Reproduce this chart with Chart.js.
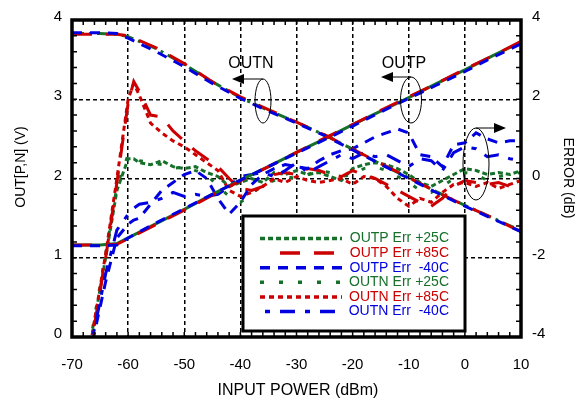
<!DOCTYPE html>
<html>
<head>
<meta charset="utf-8">
<script src="https://cdn.jsdelivr.net/npm/chart.js@4.4.0/dist/chart.umd.min.js"></script>
<style>
  html, body { margin: 0; padding: 0; background: #fff; }
  canvas { display: block; }
</style>
</head>
<body>
<canvas id="chart" width="585" height="400"></canvas>
<script>
// Output voltage curves (left axis, V)
const voltX = [-70, -65, -62, -60, -55, -50, -45, -40, -35, -30, -25, -20, -15, -10, -5, 0, 5, 10];
const outp25  = [1.16, 1.16, 1.18, 1.25, 1.43, 1.61, 1.80, 1.98, 2.15, 2.33, 2.50, 2.68, 2.85, 3.02, 3.20, 3.37, 3.55, 3.72];
const outp85  = [1.16, 1.16, 1.17, 1.24, 1.42, 1.60, 1.79, 1.97, 2.15, 2.33, 2.51, 2.68, 2.86, 3.03, 3.20, 3.38, 3.55, 3.73];
const outpM40 = [1.15, 1.15, 1.16, 1.25, 1.44, 1.62, 1.80, 1.98, 2.15, 2.32, 2.49, 2.66, 2.84, 3.01, 3.18, 3.35, 3.53, 3.70];
const outn25  = [3.83, 3.83, 3.82, 3.79, 3.64, 3.44, 3.22, 3.02, 2.86, 2.71, 2.55, 2.37, 2.18, 2.01, 1.83, 1.66, 1.50, 1.34];
const outn85  = [3.82, 3.82, 3.82, 3.80, 3.65, 3.45, 3.22, 3.03, 2.87, 2.71, 2.55, 2.37, 2.19, 2.01, 1.83, 1.66, 1.50, 1.33];
const outnM40 = [3.84, 3.84, 3.83, 3.77, 3.60, 3.41, 3.20, 3.01, 2.85, 2.70, 2.54, 2.36, 2.18, 2.00, 1.82, 1.65, 1.49, 1.33];

// Error curves (right axis, dB)
const errX = [-68, -66, -64, -62, -60, -59, -58, -56, -54, -52, -50, -48, -46, -44, -42, -40, -38, -36, -34, -32, -30,
              -28, -26, -24, -22, -20, -18, -16, -14, -12, -10, -8, -6, -4, -2, 0, 2, 4, 6, 8, 10];
const errOutp25  = [-5.3, -3.6, -2.0, -0.3, 0.5, 0.5, 0.4, 0.35, 0.45, 0.3, 0.25, 0.3, 0.15, 0.05, -0.2, -0.1, 0.0, -0.1, 0.15, 0.1, 0.2,
                    0.1, 0.15, 0.05, -0.05, 0.25, 0.35, 0.4, 0.35, 0.25, 0.1, -0.1, -0.2, -0.05, 0.1, 0.25, 0.2, 0.1, 0.15, 0.1, 0.2];
const errOutp85  = [-5.4, -3.7, -2.0, -0.1, 1.9, 2.45, 2.2, 1.6, 1.55, 1.2, 0.95, 0.7, 0.5, 0.3, 0.0, -0.25, -0.3, -0.2, 0.1, 0.15, 0.1,
                    0.25, 0.2, 0.1, 0.05, 0.2, 0.1, 0.0, -0.15, -0.3, -0.45, -0.6, -0.7, -0.5, -0.2, -0.05, -0.1, -0.15, -0.1, -0.2, -0.1];
const errOutpM40 = [-5.0, -3.9, -2.6, -1.5, -1.15, -1.05, -1.0, -0.65, -0.3, -0.1, 0.1, 0.2, 0.0, -0.5, -0.9, -0.6, -0.15, 0.1, 0.25, 0.35, 0.3,
                    0.25, 0.45, 0.6, 0.7, 0.75, 0.9, 1.05, 1.15, 1.25, 1.15, 0.6, 0.55, 0.3, 0.85, 0.9, 1.15, 1.0, 0.9, 0.95, 0.95];
const errOutn25  = [-5.2, -3.5, -1.9, -0.2, 0.6, 0.55, 0.45, 0.4, 0.35, 0.25, 0.3, 0.2, 0.1, -0.2, -0.45, -0.6, -0.4, -0.15, -0.05, 0.05, 0.0,
                    0.1, 0.2, 0.15, 0.05, 0.1, 0.25, 0.3, 0.2, 0.05, -0.1, -0.3, -0.35, -0.2, 0.0, 0.15, 0.1, -0.05, 0.05, 0.1, 0.15];
const errOutn85  = [-5.3, -3.6, -1.9, 0.0, 2.0, 2.4, 2.1, 1.4, 1.15, 0.95, 0.8, 0.6, 0.4, 0.2, -0.3, -0.45, -0.35, -0.2, 0.0, -0.1, 0.05,
                    -0.05, -0.1, -0.05, 0.0, -0.15, 0.05, 0.0, -0.2, -0.5, -0.7, -0.5, -0.6, -0.35, -0.15, -0.1, -0.2, -0.1, -0.25, -0.15, -0.05];
const errOutnM40 = [-4.9, -3.8, -2.4, -1.3, -0.9, -0.75, -0.65, -0.6, -0.5, -0.35, -0.45, -0.4, -0.45, -0.4, -0.2, 0.05, 0.1, 0.15, 0.05, 0.2, 0.4,
                    0.15, 0.3, 0.45, 0.6, 0.5, 0.65, 0.55, 0.6, 0.45, 0.3, 0.5, 0.45, 0.2, 0.65, 0.8, 0.75, 0.55, 0.6, 0.5, 0.45];

const seriesLabels = ['OUTP Err +25C', 'OUTP Err +85C', 'OUTP Err  -40C', 'OUTN Err +25C', 'OUTN Err +85C', 'OUTN Err  -40C'];

const FONT = "'Liberation Sans', Arial, Helvetica, sans-serif";
const GREEN = '#16702a';
const RED = '#cc0000';
const BLUE = '#0000e0';

const toPoints = (xs, ys) => xs.map((x, i) => ({ x: x, y: ys[i] }));

const lineSet = (label, xs, ys, color, dash, axis) => ({
    label: label,
    data: toPoints(xs, ys),
    yAxisID: axis,
    borderColor: color,
    borderWidth: 3,
    borderDash: dash,
    borderCapStyle: 'butt',
    pointRadius: 0,
    showLine: true,
    fill: false,
    tension: 0
});

const errStyles = [
    { color: GREEN, dash: [5, 3] },
    { color: RED, dash: [20, 14] },
    { color: BLUE, dash: [10, 8] },
    { color: GREEN, dash: [4, 15] },
    { color: RED, dash: [5, 4] },
    { color: BLUE, dash: [5, 10, 15, 10] }
];

const datasets = [
    lineSet('OUTP -40C', voltX, outpM40, BLUE, [10, 8], 'y'),
    lineSet('OUTP +85C', voltX, outp85, RED, [20, 14], 'y'),
    lineSet('OUTN -40C', voltX, outnM40, BLUE, [10, 8], 'y'),
    lineSet('OUTN +85C', voltX, outn85, RED, [20, 14], 'y'),
    lineSet('OUTN +25C', voltX, outn25, GREEN, [12, 5, 3, 5], 'y'),
    lineSet('OUTP +25C', voltX, outp25, GREEN, [], 'y'),
    lineSet(seriesLabels[5], errX, errOutnM40, BLUE, errStyles[5].dash, 'y2'),
    lineSet(seriesLabels[2], errX, errOutpM40, BLUE, errStyles[2].dash, 'y2'),
    lineSet(seriesLabels[4], errX, errOutn85, RED, errStyles[4].dash, 'y2'),
    lineSet(seriesLabels[1], errX, errOutp85, RED, errStyles[1].dash, 'y2'),
    lineSet(seriesLabels[3], errX, errOutn25, GREEN, errStyles[3].dash, 'y2'),
    lineSet(seriesLabels[0], errX, errOutp25, GREEN, errStyles[0].dash, 'y2')
];

// frame, minor ticks, notes, legend, axis titles
const decor = {
    id: 'decor',
    afterDatasetsDraw(chart) {
        const ctx = chart.ctx;
        const a = chart.chartArea;
        const sx = chart.scales.x;
        const sy = chart.scales.y;
        ctx.save();

        // minor ticks inside the frame
        ctx.strokeStyle = '#000';
        ctx.lineWidth = 1.5;
        ctx.setLineDash([]);
        ctx.beginPath();
        for (let v = -70; v <= 10; v += 2) {
            const px = sx.getPixelForValue(v);
            ctx.moveTo(px, a.bottom); ctx.lineTo(px, a.bottom - 5);
            ctx.moveTo(px, a.top); ctx.lineTo(px, a.top + 5);
        }
        for (let k = 0; k <= 20; k++) {
            const py = sy.getPixelForValue(k * 0.2);
            ctx.moveTo(a.left, py); ctx.lineTo(a.left + 5, py);
            ctx.moveTo(a.right, py); ctx.lineTo(a.right - 5, py);
        }
        ctx.stroke();

        // frame
        ctx.lineWidth = 3.5;
        ctx.strokeRect(a.left, a.top, a.right - a.left, a.bottom - a.top);

        // OUTN / OUTP notes
        ctx.lineWidth = 1;
        ctx.fillStyle = '#000';
        ctx.font = '16px ' + FONT;
        ctx.textAlign = 'center';
        ctx.textBaseline = 'middle';
        ctx.fillText('OUTN', 251, 64);
        ctx.fillText('OUTP', 404, 64);

        const ellipse = (cx, cy, rx, ry) => {
            ctx.beginPath();
            ctx.ellipse(cx, cy, rx, ry, 0, 0, Math.PI * 2);
            ctx.stroke();
        };
        const arrow = (x1, x2, y) => {
            const dir = Math.sign(x2 - x1);
            ctx.beginPath();
            ctx.moveTo(x1, y); ctx.lineTo(x2 - dir * 8, y);
            ctx.stroke();
            ctx.beginPath();
            ctx.moveTo(x2, y);
            ctx.lineTo(x2 - dir * 12, y - 5);
            ctx.lineTo(x2 - dir * 12, y + 5);
            ctx.closePath();
            ctx.fill();
        };
        ellipse(263, 101, 8, 22);
        arrow(263, 232, 79);
        ellipse(411, 100, 10.5, 23);
        arrow(411, 381, 77);
        ellipse(476, 164, 13, 36);
        arrow(476, 506, 128);

        // legend box
        const lx = 243, ly = 216, lw = 222, lh = 115;
        ctx.fillStyle = '#fff';
        ctx.fillRect(lx, ly, lw, lh);
        ctx.strokeStyle = '#000';
        ctx.lineWidth = 3;
        ctx.strokeRect(lx, ly, lw, lh);

        ctx.font = '14px ' + FONT;
        ctx.textAlign = 'right';
        ctx.lineWidth = 3.5;
        const starts = [260, 280, 260, 260, 260, 265];
        seriesLabels.forEach((label, i) => {
            const ry = 238.5 + i * 14.6;
            const st = errStyles[i];
            ctx.strokeStyle = st.color;
            ctx.setLineDash(st.dash);
            ctx.beginPath();
            ctx.moveTo(starts[i], ry);
            ctx.lineTo(342, ry);
            ctx.stroke();
            ctx.fillStyle = st.color;
            ctx.fillText(label, 449, ry);
        });
        ctx.setLineDash([]);

        // axis titles
        ctx.fillStyle = '#000';
        ctx.textAlign = 'center';
        ctx.font = '16px ' + FONT;
        ctx.fillText('INPUT POWER (dBm)', 298, 391);
        ctx.font = '14px ' + FONT;
        ctx.save();
        ctx.translate(21, 167);
        ctx.rotate(-Math.PI / 2);
        ctx.fillText('OUT[P,N] (V)', 0, 0);
        ctx.restore();
        ctx.save();
        ctx.translate(568, 178);
        ctx.rotate(Math.PI / 2);
        ctx.fillText('ERROR (dB)', 0, 0);
        ctx.restore();

        ctx.restore();
    }
};

const tickFont = { family: FONT, size: 15 };

new Chart(document.getElementById('chart'), {
    type: 'scatter',
    data: { datasets: datasets },
    options: {
        responsive: false,
        animation: false,
        layout: { padding: { top: 19, left: 0, right: 0, bottom: 0 } },
        plugins: {
            legend: { display: false },
            tooltip: { enabled: false }
        },
        scales: {
            x: {
                type: 'linear', min: -70, max: 10,
                ticks: { stepSize: 10, color: '#000', font: tickFont, padding: 19 },
                grid: { color: '#000', lineWidth: 1.5, drawTicks: false },
                border: { display: false, dash: [4, 3] },
                afterFit: (s) => { s.height = 63; }
            },
            y: {
                position: 'left', min: 0, max: 4,
                ticks: { stepSize: 1, color: '#000', font: tickFont, padding: 10, labelOffset: -3 },
                grid: { color: '#000', lineWidth: 1.5, drawTicks: false },
                border: { display: false, dash: [4, 3] },
                afterFit: (s) => { s.width = 72; }
            },
            y2: {
                position: 'right', min: -4, max: 4,
                ticks: { stepSize: 2, color: '#000', font: tickFont, padding: 11, labelOffset: -3 },
                grid: { display: false, drawTicks: false },
                border: { display: false },
                afterFit: (s) => { s.width = 64; }
            }
        }
    },
    plugins: [decor]
});
</script>
</body>
</html>
